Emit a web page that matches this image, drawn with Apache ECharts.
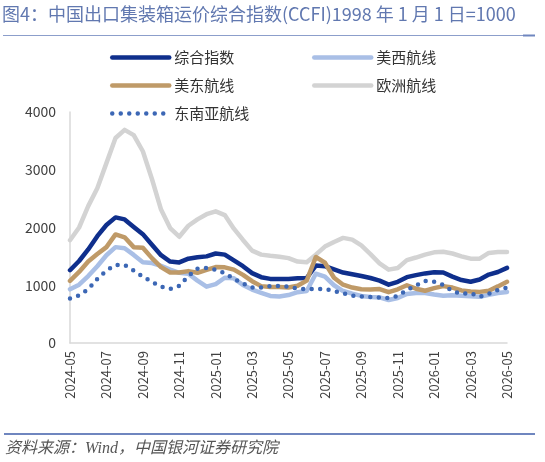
<!DOCTYPE html>
<html>
<head>
<meta charset="utf-8">
<script src="https://cdn.jsdelivr.net/npm/echarts@6/dist/echarts.min.js"></script>
<style>
  html, body { margin: 0; padding: 0; background: #fff; }
  #chart { width: 545px; height: 462px; }
</style>
</head>
<body>
<div id="chart"></div>
<script>
// half-month sample dates (CCFI is weekly, every ~2 weeks)
const dates = [
  '2024-05-01','2024-05-16','2024-06-01','2024-06-16','2024-07-01','2024-07-16',
  '2024-08-01','2024-08-16','2024-09-01','2024-09-16','2024-10-01','2024-10-16',
  '2024-11-01','2024-11-16','2024-12-01','2024-12-16','2025-01-01','2025-01-16',
  '2025-02-01','2025-02-16','2025-03-01','2025-03-16','2025-04-01','2025-04-16',
  '2025-05-01','2025-05-16','2025-06-01','2025-06-16','2025-07-01','2025-07-16',
  '2025-08-01','2025-08-16','2025-09-01','2025-09-16','2025-10-01','2025-10-16',
  '2025-11-01','2025-11-16','2025-12-01','2025-12-16','2026-01-01','2026-01-16',
  '2026-02-01','2026-02-16','2026-03-01','2026-03-16','2026-04-01','2026-04-16',
  '2026-05-01'
]

const composite = [
  1260, 1420, 1620, 1850, 2043, 2175, 2140, 2010, 1885, 1700, 1520, 1410,
  1395, 1460, 1485, 1500, 1550, 1530, 1430, 1330, 1210, 1140, 1110, 1110,
  1110, 1120, 1125, 1340, 1330, 1275, 1220, 1190, 1160, 1125, 1080, 1010,
  1060, 1140, 1175, 1205, 1225, 1220, 1150, 1090, 1060, 1100, 1185, 1230,
  1300
]
const usWest = [
  930, 1010, 1160, 1330, 1520, 1660, 1640, 1525, 1400, 1385, 1335, 1270,
  1215, 1200, 1080, 975, 1020, 1130, 1120, 1005, 925, 870, 815, 805,
  830, 880, 900, 1200, 1150, 1000, 900, 855, 815, 797, 790, 745,
  780, 850, 866, 866, 840, 818, 828, 820, 808, 800, 833, 866,
  885
]
const usEast = [
  1075, 1230, 1410, 1540, 1660, 1880, 1830, 1660, 1650, 1470, 1315, 1220,
  1220, 1245, 1215, 1265, 1315, 1310, 1270, 1180, 1070, 985, 970, 970,
  960, 990, 1080, 1490, 1390, 1130, 1010, 960, 930, 925, 935, 880,
  930, 1000, 940, 905, 950, 985, 960, 910, 890, 885, 905, 980,
  1060
]
const europe = [
  1780, 2000, 2370, 2680, 3115, 3550, 3690, 3600, 3320, 2840, 2310, 1990,
  1840, 2030, 2140, 2230, 2280, 2215, 1980, 1785, 1600, 1530, 1510, 1495,
  1470, 1410, 1400, 1530, 1670, 1750, 1820, 1790, 1690, 1540, 1380, 1270,
  1300, 1435, 1480, 1530, 1570, 1580, 1550, 1500, 1460, 1460, 1560, 1575,
  1575
]
const seAsia = [
  770, 825, 930, 1110, 1255, 1350, 1350, 1255, 1150, 1060, 975, 935,
  990, 1160, 1285, 1300, 1270, 1210, 1110, 1030, 960, 960, 985, 987,
  975, 940, 935, 935, 935, 898, 860, 820, 805, 797, 785, 780,
  815, 918, 995, 1075, 1060, 1005, 900, 850, 866, 800, 850, 920,
  960
]

const yTicks = [0, 1000, 2000, 3000, 4000]

const titleText = '图4：中国出口集装箱运价综合指数(CCFI)1998 年 1 月 1 日=1000'
const sourceText = '资料来源：Wind，中国银河证券研究院'

// months since 2024-05 -> used as x value
function monthOffset(d) {
  const [y, m, day] = d.split('-').map(Number)
  return (y - 2024) * 12 + (m - 5) + (day - 1) / 30
}
function offsetLabel(v) {
  const total = 4 + Math.round(v) // 0 = 2024-05
  const y = 2024 + Math.floor(total / 12)
  const m = (total % 12) + 1
  return y + '-' + String(m).padStart(2, '0')
}
function pairs(vals) {
  return vals.map((v, i) => [monthOffset(dates[i]), v])
}

const cjk = '"Noto Sans CJK SC", "Noto Sans", sans-serif'

function mkSeries(name, vals, color, extra) {
  return Object.assign({
    name: name,
    type: 'line',
    symbol: 'none',
    smooth: false,
    lineStyle: { color: color, width: 4.5, cap: 'round', join: 'round' },
    itemStyle: { color: color },
    data: pairs(vals)
  }, extra || {})
}

function legendAt(name, left, top) {
  return {
    data: [name],
    left: left,
    top: top,
    padding: 0,
    icon: 'inherit',
    itemWidth: 57,
    itemHeight: 14,
    itemStyle: { opacity: 0 },
    lineStyle: { width: 4.5 },
    textStyle: { fontSize: 15, color: '#333', fontFamily: cjk },
    selectedMode: false
  }
}

const chart = echarts.init(document.getElementById('chart'))

chart.setOption({
  animation: false,
  backgroundColor: '#fff',
  title: {
    text: titleText,
    left: 2,
    top: 5,
    padding: 0,
    textStyle: { fontSize: 18, fontWeight: 'normal', color: '#6178b0', fontFamily: cjk }
  },
  legend: [
    legendAt('综合指数', 110, 50),
    legendAt('美西航线', 312, 50),
    legendAt('美东航线', 110, 78),
    legendAt('欧洲航线', 312, 78),
    legendAt('东南亚航线', 110, 106)
  ],
  grid: { left: 70, right: 38, top: 112, bottom: 119 },
  xAxis: {
    type: 'value',
    min: 0,
    max: 24,
    interval: 2,
    axisLine: { show: true, lineStyle: { color: '#d9d9d9', width: 1.5 } },
    axisTick: { show: false },
    splitLine: { show: false },
    axisLabel: {
      rotate: 90,
      margin: 8,
      fontSize: 13,
      color: '#404040',
      fontFamily: cjk,
      formatter: offsetLabel
    }
  },
  yAxis: {
    type: 'value',
    min: yTicks[0],
    max: yTicks[yTicks.length - 1],
    interval: 1000,
    axisLine: { show: true, lineStyle: { color: '#d9d9d9', width: 1.5 } },
    axisTick: { show: false },
    splitLine: { show: false },
    axisLabel: {
      fontSize: 14,
      color: '#404040',
      margin: 14,
      fontFamily: cjk,
      formatter: v => String(v)
    }
  },
  series: [
    mkSeries('欧洲航线', europe, '#d3d3d3'),
    mkSeries('美西航线', usWest, '#a9bfe6'),
    mkSeries('综合指数', composite, '#0f2f8c'),
    mkSeries('美东航线', usEast, '#bf9a68'),
    mkSeries('东南亚航线', seAsia, '#3c67b5', {
      lineStyle: { color: '#3c67b5', width: 4.5, type: [0, 8.5], cap: 'round' }
    })
  ],
  graphic: [
    {
      type: 'line',
      shape: { x1: 3, y1: 35.5, x2: 535, y2: 35.5 },
      style: { stroke: '#8c9ecb', lineWidth: 1 }
    },
    {
      type: 'line',
      shape: { x1: 523, y1: 35.5, x2: 535, y2: 35.5 },
      style: { stroke: '#6f86bf', lineWidth: 2 }
    },
    {
      type: 'line',
      shape: { x1: 4, y1: 434, x2: 535, y2: 434 },
      style: { stroke: '#6f86bf', lineWidth: 2 }
    },
    {
      type: 'text',
      left: 5,
      top: 441,
      style: {
        text: sourceText,
        fontSize: 16,
        fontStyle: 'italic',
        fill: '#555',
        fontFamily: '"Liberation Serif", ' + cjk
      }
    }
  ]
})
</script>
</body>
</html>
